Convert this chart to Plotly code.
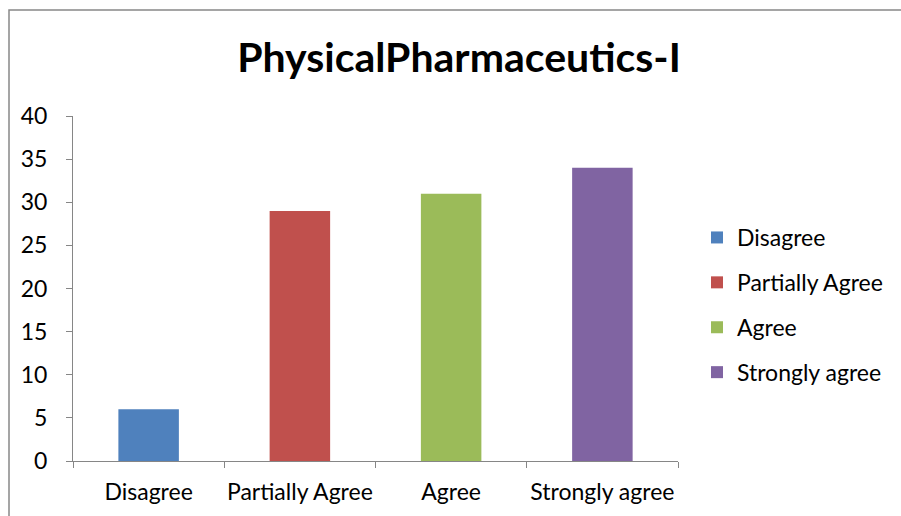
import plotly.graph_objects as go

categories = ["Disagree", "Partially Agree", "Agree", "Strongly agree"]
values = [6, 29, 31, 34]
colors = ["#4F81BD", "#C0504D", "#9BBB59", "#8064A2"]

W, H = 901, 516
L, R, T, B = 73, 678, 116, 461
FONT = "Lato, Calibri, Arial, sans-serif"

fig = go.Figure()
for cat, val, col in zip(categories, values, colors):
    fig.add_trace(go.Bar(
        x=[cat], y=[val], name=cat, marker=dict(color=col, line=dict(width=0)),
        width=0.4, legendgroup=cat,
    ))

# outer chart border (pixel coords converted to paper coords)
def px(x):
    return (x - L) / (R - L)

def py(y):
    return (B - y) / (B - T)

fig.add_shape(type="rect", xref="paper", yref="paper",
              x0=px(9), x1=px(W + 20), y0=py(10), y1=py(H + 20),
              line=dict(color="#888888", width=1.5), fillcolor="rgba(0,0,0,0)")

fig.update_layout(
    width=W, height=H,
    margin=dict(l=L, r=W - R, t=T, b=H - B, autoexpand=False),
    paper_bgcolor="white", plot_bgcolor="white",
    barmode="overlay",
    font=dict(family=FONT, size=23, color="#000000"),
    title=dict(text="<b>PhysicalPharmaceutics-I</b>", x=(235 + 683) / 2 / W, xanchor="center",
               y=1 - 58 / H, yanchor="middle", font=dict(family=FONT, size=41, color="#000000")),
    showlegend=True,
    legend=dict(x=px(697), xanchor="left", y=py(305), yanchor="middle",
                font=dict(family=FONT, size=23), tracegroupgap=12,
                itemwidth=30, bgcolor="rgba(0,0,0,0)"),
    xaxis=dict(categoryorder="array", categoryarray=categories,
               showline=True, linecolor="#868686", linewidth=1,
               ticks="outside", tickson="boundaries", ticklen=6, tickcolor="#868686",
               showgrid=False, tickfont=dict(size=23), range=[-0.5, 3.5],
               tickangle=0, ticklabelstandoff=10, automargin=False),
    yaxis=dict(range=[0, 40], dtick=5, showline=True, linecolor="#868686", linewidth=1,
               ticks="outside", ticklen=6, tickcolor="#868686", showgrid=False,
               zeroline=False, tickfont=dict(size=23), ticklabelstandoff=14,
               automargin=False),
)

fig.write_html("out.html", config={"displayModeBar": False},
               post_script="document.body.style.margin='0';document.body.style.overflow='hidden';")
